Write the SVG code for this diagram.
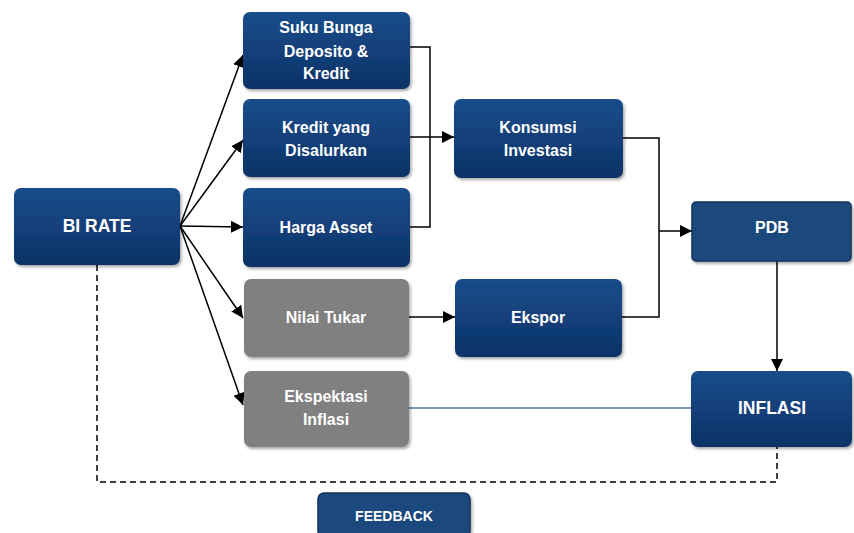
<svg xmlns="http://www.w3.org/2000/svg" width="854" height="533" viewBox="0 0 854 533">
<defs>
<linearGradient id="blue" x1="0" y1="0" x2="0" y2="1">
<stop offset="0" stop-color="#1a4d8c"/>
<stop offset="1" stop-color="#0c3266"/>
</linearGradient>
<filter id="sh" x="-10%" y="-10%" width="125%" height="130%">
<feDropShadow dx="1.5" dy="2" stdDeviation="1.5" flood-color="#000" flood-opacity="0.35"/>
</filter>
<marker id="ah" viewBox="0 0 10 10" refX="10" refY="5" markerWidth="12" markerHeight="12" markerUnits="userSpaceOnUse" orient="auto">
<path d="M0,0 L10,5 L0,10 Z" fill="#000"/>
</marker>
</defs>
<style>
.b{fill:url(#blue);filter:url(#sh)}
.g{fill:#808080;filter:url(#sh)}
.f{fill:#1f4a7d;stroke:#14325a;stroke-width:1.5;filter:url(#sh)}
text{font-family:"Liberation Sans",Arial,sans-serif;font-weight:bold;font-size:16px;fill:#fff;text-anchor:middle}
.u{font-size:17.5px}
.c{fill:none;stroke:#000;stroke-width:1.5}
</style>
<rect width="854" height="533" fill="#fff"/>
<g id="connectors">
<path class="c" d="M180,226 L243,55" marker-end="url(#ah)"/>
<path class="c" d="M180,226 L243,140" marker-end="url(#ah)"/>
<path class="c" d="M180,226 L243,227" marker-end="url(#ah)"/>
<path class="c" d="M180,226 L243,318" marker-end="url(#ah)"/>
<path class="c" d="M180,226 L243,405" marker-end="url(#ah)"/>
<path class="c" d="M410,47 H430 V227 H410"/>
<path class="c" d="M410,137 H454" marker-end="url(#ah)"/>
<path class="c" d="M409,317 H455" marker-end="url(#ah)"/>
<path class="c" d="M623,138 H659 V317 H622"/>
<path class="c" d="M659,231 H692" marker-end="url(#ah)"/>
<path class="c" d="M777,261 V371" marker-end="url(#ah)"/>
<path d="M409,408 H691" fill="none" stroke="#7f98bd" stroke-width="2"/>
<path d="M97,265 V482 H777 V447" fill="none" stroke="#000" stroke-width="1.5" stroke-dasharray="6,4"/>
</g>
<g id="bi-rate"><rect class="b" x="14" y="188" width="166" height="77" rx="7"/><text class="u" x="97" y="232">BI RATE</text></g>
<g id="suku-bunga"><rect class="b" x="243" y="12" width="167" height="77" rx="7"/><text x="326" y="33">Suku Bunga</text><text x="326" y="57">Deposito &amp;</text><text x="326" y="79">Kredit</text></g>
<g id="kredit"><rect class="b" x="243" y="99" width="167" height="78" rx="7"/><text x="326" y="133">Kredit yang</text><text x="326" y="156">Disalurkan</text></g>
<g id="harga-asset"><rect class="b" x="243" y="188" width="167" height="79" rx="7"/><text x="326" y="233">Harga Asset</text></g>
<g id="nilai-tukar"><rect class="g" x="244" y="279" width="165" height="78" rx="7"/><text x="326" y="323">Nilai Tukar</text></g>
<g id="ekspektasi"><rect class="g" x="244" y="371" width="165" height="76" rx="7"/><text x="326" y="402">Ekspektasi</text><text x="326" y="425">Inflasi</text></g>
<g id="konsumsi"><rect class="b" x="454" y="99" width="169" height="79" rx="7"/><text x="538" y="133">Konsumsi</text><text x="538" y="156">Investasi</text></g>
<g id="ekspor"><rect class="b" x="455" y="279" width="167" height="78" rx="7"/><text x="538" y="323">Ekspor</text></g>
<g id="pdb"><rect class="f" x="692" y="202" width="159" height="59" rx="4"/><text x="772" y="233">PDB</text></g>
<g id="inflasi"><rect class="b" x="691" y="371" width="161" height="76" rx="7"/><text class="u" x="772" y="414">INFLASI</text></g>
<g id="feedback"><rect class="f" x="318" y="493" width="152" height="44" rx="6"/><text x="394" y="521" style="font-size:14px">FEEDBACK</text></g>
</svg>
